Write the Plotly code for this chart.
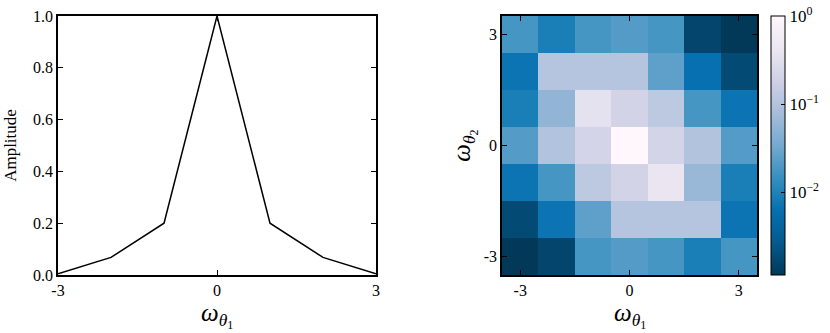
import numpy as np
import plotly.graph_objects as go
import plotly.express as px

# left panel: amplitude along omega_theta1
omega = [-3, -2, -1, 0, 1, 2, 3]
amplitude = [0.005, 0.068, 0.2, 1.0, 0.2, 0.068, 0.005]

# right panel: 2-D amplitude map, rows from omega_theta2 = 3 down to -3
grid_x = [-3, -2, -1, 0, 1, 2, 3]
grid_y = [3, 2, 1, 0, -1, -2, -3]
amp2d = [
    [0.018, 0.009, 0.018, 0.022, 0.018, 0.0016, 0.00115],
    [0.007, 0.11, 0.11, 0.11, 0.025, 0.0063, 0.0018],
    [0.009, 0.056, 0.35, 0.2, 0.125, 0.018, 0.007],
    [0.022, 0.1, 0.21, 1.0, 0.21, 0.1, 0.022],
    [0.007, 0.018, 0.125, 0.2, 0.4, 0.063, 0.009],
    [0.0018, 0.007, 0.025, 0.11, 0.11, 0.11, 0.007],
    [0.00115, 0.0016, 0.018, 0.022, 0.018, 0.009, 0.018],
]
cbar_ticks = [-2, -1, 0]
cbar_text = ["10<sup>−2</sup>", "10<sup>−1</sup>", "10<sup>0</sup>"]

FONT = "Liberation Serif"
W, H = 830, 333
scale = px.colors.sequential.PuBu[::-1]
cscale = [[i / (len(scale) - 1), c] for i, c in enumerate(scale)]

axis_style = dict(
    showline=True, mirror="ticks", linecolor="black", linewidth=1.5,
    ticks="inside", ticklen=5, tickwidth=1, tickcolor="black",
    showgrid=False, zeroline=False, automargin=False,
    tickfont=dict(family=FONT, size=16, color="black"),
)
sub1 = "<span style='font-size:12px;baseline-shift:-3px'>{}</span>"
omega1 = "<i>ω</i><sub><i>θ</i>" + sub1.format("1") + "</sub>"
omega2 = "<i>ω</i><sub><i>θ</i>" + sub1.format("2") + "</sub>"
title_font = dict(family=FONT, size=25, color="black")

fig = go.Figure()
fig.add_trace(go.Scatter(
    x=omega, y=amplitude, mode="lines",
    line=dict(color="black", width=1.5),
    showlegend=False, xaxis="x", yaxis="y",
))

z = np.log10(np.array(amp2d))
fig.add_trace(go.Heatmap(
    x=grid_x, y=grid_y, z=z, colorscale=cscale,
    zmin=z.min(), zmax=0, xaxis="x2", yaxis="y2",
    colorbar=dict(
        x=771 / W, xanchor="left", y=0.5, yanchor="middle",
        len=1, lenmode="fraction", thickness=14, xpad=0, ypad=0,
        outlinewidth=1, outlinecolor="black",
        tickvals=cbar_ticks, ticktext=cbar_text, ticks="inside",
        ticklen=4, tickcolor="black",
        tickfont=dict(family=FONT, size=17, color="black"),
    ),
))

# x-axis titles sit a little closer to the tick labels than plotly allows
for xref, yref in [("x domain", "y domain"), ("x2 domain", "y2 domain")]:
    fig.add_annotation(text=omega1, xref=xref, yref=yref, x=0.5, y=0,
                       xanchor="center", yanchor="top", yshift=-23,
                       borderpad=0, showarrow=False, font=title_font)

fig.update_layout(
    width=W, height=H,
    margin=dict(l=0, r=0, t=16, b=58, autoexpand=False),
    font=dict(family=FONT, color="black"),
    plot_bgcolor="white", paper_bgcolor="white",
    xaxis=dict(domain=[58 / W, 376 / W], range=[-3, 3],
               tickvals=[-3, 0, 3], ticktext=["-3", "0", "3"],
               **axis_style),
    yaxis=dict(range=[0, 1], tickvals=[0, 0.2, 0.4, 0.6, 0.8, 1.0],
               ticktext=["0.0", "0.2", "0.4", "0.6", "0.8", "1.0"],
               title=dict(text="Amplitude", font=dict(family=FONT, size=17, color="black"),
                          standoff=12),
               **axis_style),
    xaxis2=dict(domain=[502 / W, 757 / W], range=[-3.5, 3.5], anchor="y2",
                tickvals=[-3, 0, 3], ticktext=["-3", "0", "3"],
                **axis_style),
    yaxis2=dict(range=[-3.5, 3.5], anchor="x2",
                tickvals=[-3, 0, 3], ticktext=["-3", "0", "3"],
                title=dict(text=omega2, font=title_font, standoff=6),
                **axis_style),
)

# page body has a default 8px margin; drop it so the figure sits at the corner
fig.write_html("out.html", config={"displayModeBar": False},
               post_script="document.body.style.margin='0';")
